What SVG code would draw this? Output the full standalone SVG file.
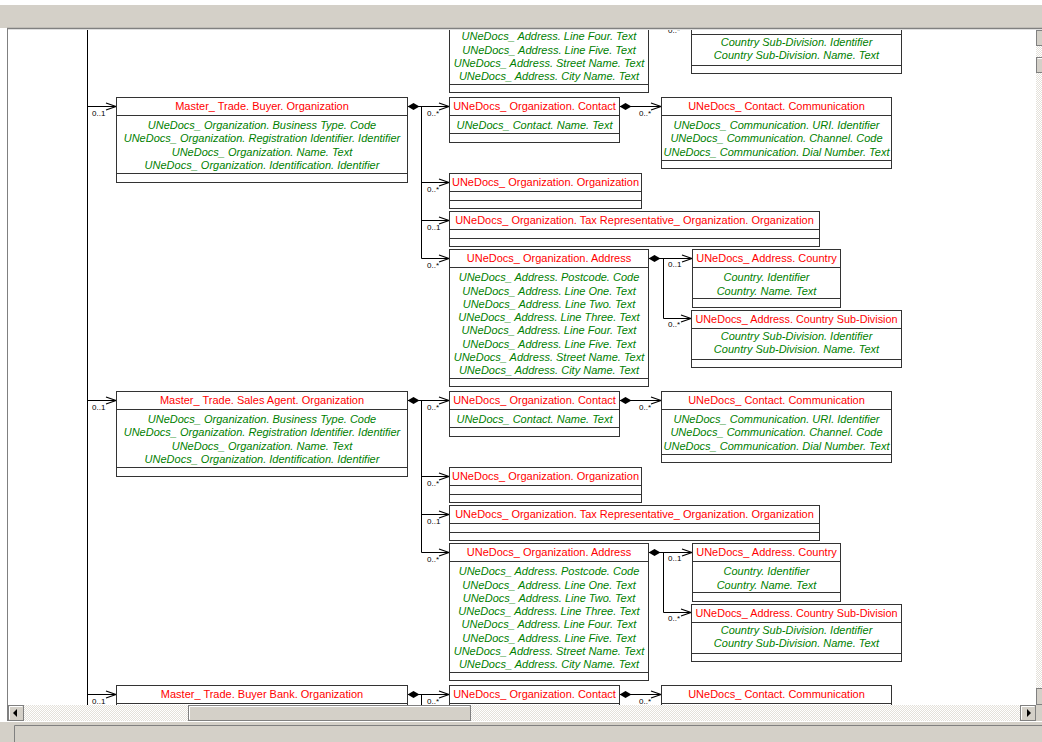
<svg xmlns="http://www.w3.org/2000/svg" width="1042" height="742" viewBox="0 0 1042 742">
<style>
.box{fill:#fff;stroke:#333;stroke-width:1}
.sep{stroke:#333;stroke-width:1}
.t{font-family:"Liberation Sans",Arial,sans-serif;font-size:11px;fill:#f00;text-anchor:middle}
.a{font-family:"Liberation Sans",Arial,sans-serif;font-size:11px;font-style:italic;fill:#008000;text-anchor:middle}
.m{font-family:"Liberation Sans",Arial,sans-serif;font-size:8px;fill:#000}
.c{fill:none;stroke:#000;stroke-width:1}
.btn{fill:#d4d0c8;stroke:#808080;stroke-width:1}
.hi{stroke:#fff;stroke-width:1}
</style>
<defs>
<marker id="arr" markerUnits="userSpaceOnUse" markerWidth="12" markerHeight="10" viewBox="0 0 12 10" refX="11" refY="5" orient="auto">
<path d="M1,1.5 L11,5 L1,8.5" fill="none" stroke="#000" stroke-width="1.3"/>
</marker>
<marker id="dia" markerUnits="userSpaceOnUse" markerWidth="12" markerHeight="8" viewBox="0 0 12 8" refX="0" refY="4" orient="auto">
<path d="M0,4 L6,0.5 L12,4 L6,7.5 Z" fill="#000"/>
</marker>
<pattern id="chk" width="2" height="2" patternUnits="userSpaceOnUse">
<rect width="2" height="2" fill="#e4e1da"/><rect width="1" height="1" fill="#fff"/><rect x="1" y="1" width="1" height="1" fill="#fff"/>
</pattern>
<clipPath id="pane"><rect x="8" y="30" width="1028" height="675"/></clipPath>
</defs>

<!-- window chrome -->
<rect x="0" y="0" width="1042" height="742" fill="#fff"/>
<rect x="0" y="5" width="1042" height="23" fill="#d4d0c8"/>
<line x1="7" y1="28.5" x2="1042" y2="28.5" stroke="#808080" stroke-width="1.5"/>
<line x1="7.5" y1="28" x2="7.5" y2="722" stroke="#808080" stroke-width="1"/>

<g clip-path="url(#pane)">
<line x1="87.5" y1="29" x2="87.5" y2="705" stroke="#000" stroke-width="1"/>

<!-- connectors -->
<g id="connectors">
<g id="conn-top" transform="translate(0,-294)">
<path class="c" marker-start="url(#dia)" marker-end="url(#arr)" d="M648.5,258.5 H692"/>
<path class="c" marker-end="url(#arr)" d="M663.5,258.5 V318.5 H691"/>
<text class="m" x="668" y="327">0..*</text>
</g>
<g id="conn-buyer">
<path class="c" marker-end="url(#arr)" d="M87.5,106.5 H116"/>
<text class="m" x="92" y="116">0..1</text>
<path class="c" marker-start="url(#dia)" marker-end="url(#arr)" d="M407.5,106.5 H449"/>
<path class="c" d="M421.5,106.5 V258.5"/>
<path class="c" marker-end="url(#arr)" d="M421.5,182.5 H449"/>
<path class="c" marker-end="url(#arr)" d="M421.5,220.5 H449"/>
<path class="c" marker-end="url(#arr)" d="M421.5,258.5 H449"/>
<text class="m" x="427" y="116">0..*</text>
<text class="m" x="427" y="192">0..*</text>
<text class="m" x="427" y="230">0..1</text>
<text class="m" x="427" y="268">0..*</text>
<path class="c" marker-start="url(#dia)" marker-end="url(#arr)" d="M619.5,106.5 H661"/>
<text class="m" x="639" y="116">0..*</text>
<path class="c" marker-start="url(#dia)" marker-end="url(#arr)" d="M648.5,258.5 H692"/>
<path class="c" marker-end="url(#arr)" d="M663.5,258.5 V318.5 H691"/>
<text class="m" x="668" y="267">0..1</text>
<text class="m" x="668" y="327">0..*</text>
</g>
<g id="conn-sales" transform="translate(0,294)">
<path class="c" marker-end="url(#arr)" d="M87.5,106.5 H116"/>
<text class="m" x="92" y="116">0..1</text>
<path class="c" marker-start="url(#dia)" marker-end="url(#arr)" d="M407.5,106.5 H449"/>
<path class="c" d="M421.5,106.5 V258.5"/>
<path class="c" marker-end="url(#arr)" d="M421.5,182.5 H449"/>
<path class="c" marker-end="url(#arr)" d="M421.5,220.5 H449"/>
<path class="c" marker-end="url(#arr)" d="M421.5,258.5 H449"/>
<text class="m" x="427" y="116">0..*</text>
<text class="m" x="427" y="192">0..*</text>
<text class="m" x="427" y="230">0..1</text>
<text class="m" x="427" y="268">0..*</text>
<path class="c" marker-start="url(#dia)" marker-end="url(#arr)" d="M619.5,106.5 H661"/>
<text class="m" x="639" y="116">0..*</text>
<path class="c" marker-start="url(#dia)" marker-end="url(#arr)" d="M648.5,258.5 H692"/>
<path class="c" marker-end="url(#arr)" d="M663.5,258.5 V318.5 H691"/>
<text class="m" x="668" y="267">0..1</text>
<text class="m" x="668" y="327">0..*</text>
</g>
<g id="conn-bank" transform="translate(0,588)">
<path class="c" marker-end="url(#arr)" d="M87.5,106.5 H116"/>
<text class="m" x="92" y="116">0..1</text>
<path class="c" marker-start="url(#dia)" marker-end="url(#arr)" d="M407.5,106.5 H449"/>
<path class="c" d="M421.5,106.5 V130"/>
<text class="m" x="427" y="116">0..*</text>
<path class="c" marker-start="url(#dia)" marker-end="url(#arr)" d="M619.5,106.5 H661"/>
<text class="m" x="639" y="116">0..*</text>
</g>
</g>

<!-- top partial section -->
<g transform="translate(0,-294)">
<g id="top-address">
<rect class="box" x="449.5" y="249.5" width="199" height="137"/>
<line class="sep" x1="449.5" y1="378.5" x2="648.5" y2="378.5"/>
<text class="a" x="549" y="334.3">UNeDocs_ Address. Line Four. Text</text>
<text class="a" x="549" y="347.6">UNeDocs_ Address. Line Five. Text</text>
<text class="a" x="549" y="360.9">UNeDocs_ Address. Street Name. Text</text>
<text class="a" x="549" y="374.2">UNeDocs_ Address. City Name. Text</text>
</g>
<g id="top-subdivision">
<rect class="box" x="691.5" y="310.5" width="210" height="57"/>
<line class="sep" x1="691.5" y1="328.5" x2="901.5" y2="328.5"/>
<line class="sep" x1="691.5" y1="359.5" x2="901.5" y2="359.5"/>
<text class="a" x="796.5" y="340">Country Sub-Division. Identifier</text>
<text class="a" x="796.5" y="353.3">Country Sub-Division. Name. Text</text>
</g>
</g>

<!-- buyer section -->
<g id="buyer-org">
<rect class="box" x="116.5" y="97.5" width="291" height="85"/>
<line class="sep" x1="116.5" y1="115.5" x2="407.5" y2="115.5"/>
<line class="sep" x1="116.5" y1="173.5" x2="407.5" y2="173.5"/>
<text class="t" x="262" y="110">Master_ Trade. Buyer. Organization</text>
<text class="a" x="262" y="129">UNeDocs_ Organization. Business Type. Code</text>
<text class="a" x="262" y="142.3">UNeDocs_ Organization. Registration Identifier. Identifier</text>
<text class="a" x="262" y="155.6">UNeDocs_ Organization. Name. Text</text>
<text class="a" x="262" y="168.9">UNeDocs_ Organization. Identification. Identifier</text>
</g>
<g id="buyer-contact">
<rect class="box" x="449.5" y="97.5" width="170" height="45"/>
<line class="sep" x1="449.5" y1="115.5" x2="619.5" y2="115.5"/>
<line class="sep" x1="449.5" y1="133.5" x2="619.5" y2="133.5"/>
<text class="t" x="534.5" y="110">UNeDocs_ Organization. Contact</text>
<text class="a" x="534.5" y="129">UNeDocs_ Contact. Name. Text</text>
</g>
<g id="buyer-communication">
<rect class="box" x="661.5" y="97.5" width="230" height="71"/>
<line class="sep" x1="661.5" y1="115.5" x2="891.5" y2="115.5"/>
<line class="sep" x1="661.5" y1="160.5" x2="891.5" y2="160.5"/>
<text class="t" x="776.5" y="110">UNeDocs_ Contact. Communication</text>
<text class="a" x="776.5" y="129">UNeDocs_ Communication. URI. Identifier</text>
<text class="a" x="776.5" y="142.3">UNeDocs_ Communication. Channel. Code</text>
<text class="a" x="776.5" y="155.6">UNeDocs_ Communication. Dial Number. Text</text>
</g>
<g id="buyer-orgorg">
<rect class="box" x="449.5" y="173.5" width="192" height="35"/>
<line class="sep" x1="449.5" y1="191.5" x2="641.5" y2="191.5"/>
<line class="sep" x1="449.5" y1="200.5" x2="641.5" y2="200.5"/>
<text class="t" x="545.5" y="186">UNeDocs_ Organization. Organization</text>
</g>
<g id="buyer-taxrep">
<rect class="box" x="449.5" y="211.5" width="370" height="35"/>
<line class="sep" x1="449.5" y1="229.5" x2="819.5" y2="229.5"/>
<line class="sep" x1="449.5" y1="238.5" x2="819.5" y2="238.5"/>
<text class="t" x="634.5" y="224">UNeDocs_ Organization. Tax Representative_ Organization. Organization</text>
</g>
<g id="buyer-address">
<rect class="box" x="449.5" y="249.5" width="199" height="137"/>
<line class="sep" x1="449.5" y1="267.5" x2="648.5" y2="267.5"/>
<line class="sep" x1="449.5" y1="378.5" x2="648.5" y2="378.5"/>
<text class="t" x="549" y="262">UNeDocs_ Organization. Address</text>
<text class="a" x="549" y="281.3">UNeDocs_ Address. Postcode. Code</text>
<text class="a" x="549" y="294.6">UNeDocs_ Address. Line One. Text</text>
<text class="a" x="549" y="307.9">UNeDocs_ Address. Line Two. Text</text>
<text class="a" x="549" y="321.1">UNeDocs_ Address. Line Three. Text</text>
<text class="a" x="549" y="334.3">UNeDocs_ Address. Line Four. Text</text>
<text class="a" x="549" y="347.6">UNeDocs_ Address. Line Five. Text</text>
<text class="a" x="549" y="360.9">UNeDocs_ Address. Street Name. Text</text>
<text class="a" x="549" y="374.2">UNeDocs_ Address. City Name. Text</text>
</g>
<g id="buyer-country">
<rect class="box" x="692.5" y="249.5" width="148" height="58"/>
<line class="sep" x1="692.5" y1="267.5" x2="840.5" y2="267.5"/>
<line class="sep" x1="692.5" y1="298.5" x2="840.5" y2="298.5"/>
<text class="t" x="766.5" y="262">UNeDocs_ Address. Country</text>
<text class="a" x="766.5" y="281.3">Country. Identifier</text>
<text class="a" x="766.5" y="294.6">Country. Name. Text</text>
</g>
<g id="buyer-subdivision">
<rect class="box" x="691.5" y="310.5" width="210" height="57"/>
<line class="sep" x1="691.5" y1="328.5" x2="901.5" y2="328.5"/>
<line class="sep" x1="691.5" y1="359.5" x2="901.5" y2="359.5"/>
<text class="t" x="796.5" y="322.5" textLength="202" lengthAdjust="spacingAndGlyphs">UNeDocs_ Address. Country Sub-Division</text>
<text class="a" x="796.5" y="340">Country Sub-Division. Identifier</text>
<text class="a" x="796.5" y="353.3">Country Sub-Division. Name. Text</text>
</g>

<!-- sales agent section -->
<g transform="translate(0,294)">
<g id="sales-org">
<rect class="box" x="116.5" y="97.5" width="291" height="85"/>
<line class="sep" x1="116.5" y1="115.5" x2="407.5" y2="115.5"/>
<line class="sep" x1="116.5" y1="173.5" x2="407.5" y2="173.5"/>
<text class="t" x="262" y="110">Master_ Trade. Sales Agent. Organization</text>
<text class="a" x="262" y="129">UNeDocs_ Organization. Business Type. Code</text>
<text class="a" x="262" y="142.3">UNeDocs_ Organization. Registration Identifier. Identifier</text>
<text class="a" x="262" y="155.6">UNeDocs_ Organization. Name. Text</text>
<text class="a" x="262" y="168.9">UNeDocs_ Organization. Identification. Identifier</text>
</g>
<g id="sales-contact">
<rect class="box" x="449.5" y="97.5" width="170" height="45"/>
<line class="sep" x1="449.5" y1="115.5" x2="619.5" y2="115.5"/>
<line class="sep" x1="449.5" y1="133.5" x2="619.5" y2="133.5"/>
<text class="t" x="534.5" y="110">UNeDocs_ Organization. Contact</text>
<text class="a" x="534.5" y="129">UNeDocs_ Contact. Name. Text</text>
</g>
<g id="sales-communication">
<rect class="box" x="661.5" y="97.5" width="230" height="71"/>
<line class="sep" x1="661.5" y1="115.5" x2="891.5" y2="115.5"/>
<line class="sep" x1="661.5" y1="160.5" x2="891.5" y2="160.5"/>
<text class="t" x="776.5" y="110">UNeDocs_ Contact. Communication</text>
<text class="a" x="776.5" y="129">UNeDocs_ Communication. URI. Identifier</text>
<text class="a" x="776.5" y="142.3">UNeDocs_ Communication. Channel. Code</text>
<text class="a" x="776.5" y="155.6">UNeDocs_ Communication. Dial Number. Text</text>
</g>
<g id="sales-orgorg">
<rect class="box" x="449.5" y="173.5" width="192" height="35"/>
<line class="sep" x1="449.5" y1="191.5" x2="641.5" y2="191.5"/>
<line class="sep" x1="449.5" y1="200.5" x2="641.5" y2="200.5"/>
<text class="t" x="545.5" y="186">UNeDocs_ Organization. Organization</text>
</g>
<g id="sales-taxrep">
<rect class="box" x="449.5" y="211.5" width="370" height="35"/>
<line class="sep" x1="449.5" y1="229.5" x2="819.5" y2="229.5"/>
<line class="sep" x1="449.5" y1="238.5" x2="819.5" y2="238.5"/>
<text class="t" x="634.5" y="224">UNeDocs_ Organization. Tax Representative_ Organization. Organization</text>
</g>
<g id="sales-address">
<rect class="box" x="449.5" y="249.5" width="199" height="137"/>
<line class="sep" x1="449.5" y1="267.5" x2="648.5" y2="267.5"/>
<line class="sep" x1="449.5" y1="378.5" x2="648.5" y2="378.5"/>
<text class="t" x="549" y="262">UNeDocs_ Organization. Address</text>
<text class="a" x="549" y="281.3">UNeDocs_ Address. Postcode. Code</text>
<text class="a" x="549" y="294.6">UNeDocs_ Address. Line One. Text</text>
<text class="a" x="549" y="307.9">UNeDocs_ Address. Line Two. Text</text>
<text class="a" x="549" y="321.1">UNeDocs_ Address. Line Three. Text</text>
<text class="a" x="549" y="334.3">UNeDocs_ Address. Line Four. Text</text>
<text class="a" x="549" y="347.6">UNeDocs_ Address. Line Five. Text</text>
<text class="a" x="549" y="360.9">UNeDocs_ Address. Street Name. Text</text>
<text class="a" x="549" y="374.2">UNeDocs_ Address. City Name. Text</text>
</g>
<g id="sales-country">
<rect class="box" x="692.5" y="249.5" width="148" height="58"/>
<line class="sep" x1="692.5" y1="267.5" x2="840.5" y2="267.5"/>
<line class="sep" x1="692.5" y1="298.5" x2="840.5" y2="298.5"/>
<text class="t" x="766.5" y="262">UNeDocs_ Address. Country</text>
<text class="a" x="766.5" y="281.3">Country. Identifier</text>
<text class="a" x="766.5" y="294.6">Country. Name. Text</text>
</g>
<g id="sales-subdivision">
<rect class="box" x="691.5" y="310.5" width="210" height="57"/>
<line class="sep" x1="691.5" y1="328.5" x2="901.5" y2="328.5"/>
<line class="sep" x1="691.5" y1="359.5" x2="901.5" y2="359.5"/>
<text class="t" x="796.5" y="322.5" textLength="202" lengthAdjust="spacingAndGlyphs">UNeDocs_ Address. Country Sub-Division</text>
<text class="a" x="796.5" y="340">Country Sub-Division. Identifier</text>
<text class="a" x="796.5" y="353.3">Country Sub-Division. Name. Text</text>
</g>
</g>

<!-- buyer bank section (partial) -->
<g transform="translate(0,588)">
<g id="bank-org">
<rect class="box" x="116.5" y="97.5" width="291" height="85"/>
<line class="sep" x1="116.5" y1="115.5" x2="407.5" y2="115.5"/>
<text class="t" x="262" y="110">Master_ Trade. Buyer Bank. Organization</text>
</g>
<g id="bank-contact">
<rect class="box" x="449.5" y="97.5" width="170" height="45"/>
<line class="sep" x1="449.5" y1="115.5" x2="619.5" y2="115.5"/>
<text class="t" x="534.5" y="110">UNeDocs_ Organization. Contact</text>
</g>
<g id="bank-communication">
<rect class="box" x="661.5" y="97.5" width="230" height="71"/>
<line class="sep" x1="661.5" y1="115.5" x2="891.5" y2="115.5"/>
<text class="t" x="776.5" y="110">UNeDocs_ Contact. Communication</text>
</g>
</g>
</g>

<!-- scrollbars -->
<rect x="1036" y="30" width="6" height="675" fill="url(#chk)"/>
<rect class="btn" x="1036.5" y="30.5" width="16" height="15"/>
<rect class="btn" x="1036.5" y="57.5" width="16" height="15"/>
<line class="hi" x1="1037.5" y1="58.5" x2="1042" y2="58.5"/>
<rect class="btn" x="1036.5" y="688.5" width="16" height="16"/>
<rect x="8" y="705" width="1028" height="16" fill="url(#chk)"/>
<rect class="btn" x="8.5" y="705.5" width="15" height="15"/>
<line class="hi" x1="9.5" y1="706.5" x2="22.5" y2="706.5"/><line class="hi" x1="9.5" y1="706.5" x2="9.5" y2="719.5"/>
<polygon points="13,713 17,709 17,717" fill="#000"/>
<rect class="btn" x="188.5" y="705.5" width="282" height="15"/>
<line class="hi" x1="189.5" y1="706.5" x2="469.5" y2="706.5"/><line class="hi" x1="189.5" y1="706.5" x2="189.5" y2="719.5"/>
<rect class="btn" x="1020.5" y="705.5" width="15" height="15"/>
<line class="hi" x1="1021.5" y1="706.5" x2="1034.5" y2="706.5"/><line class="hi" x1="1021.5" y1="706.5" x2="1021.5" y2="719.5"/>
<polygon points="1031,713 1027,709 1027,717" fill="#000"/>
<rect x="1036" y="705" width="6" height="16" fill="#d4d0c8"/>

<!-- status bar -->
<rect x="0" y="721" width="1042" height="21" fill="#d4d0c8"/>
<line x1="0" y1="721.5" x2="1042" y2="721.5" stroke="#fff" stroke-width="1"/>
<path d="M14.5,742 V725.5 H1042" fill="none" stroke="#808080" stroke-width="1"/>
</svg>
